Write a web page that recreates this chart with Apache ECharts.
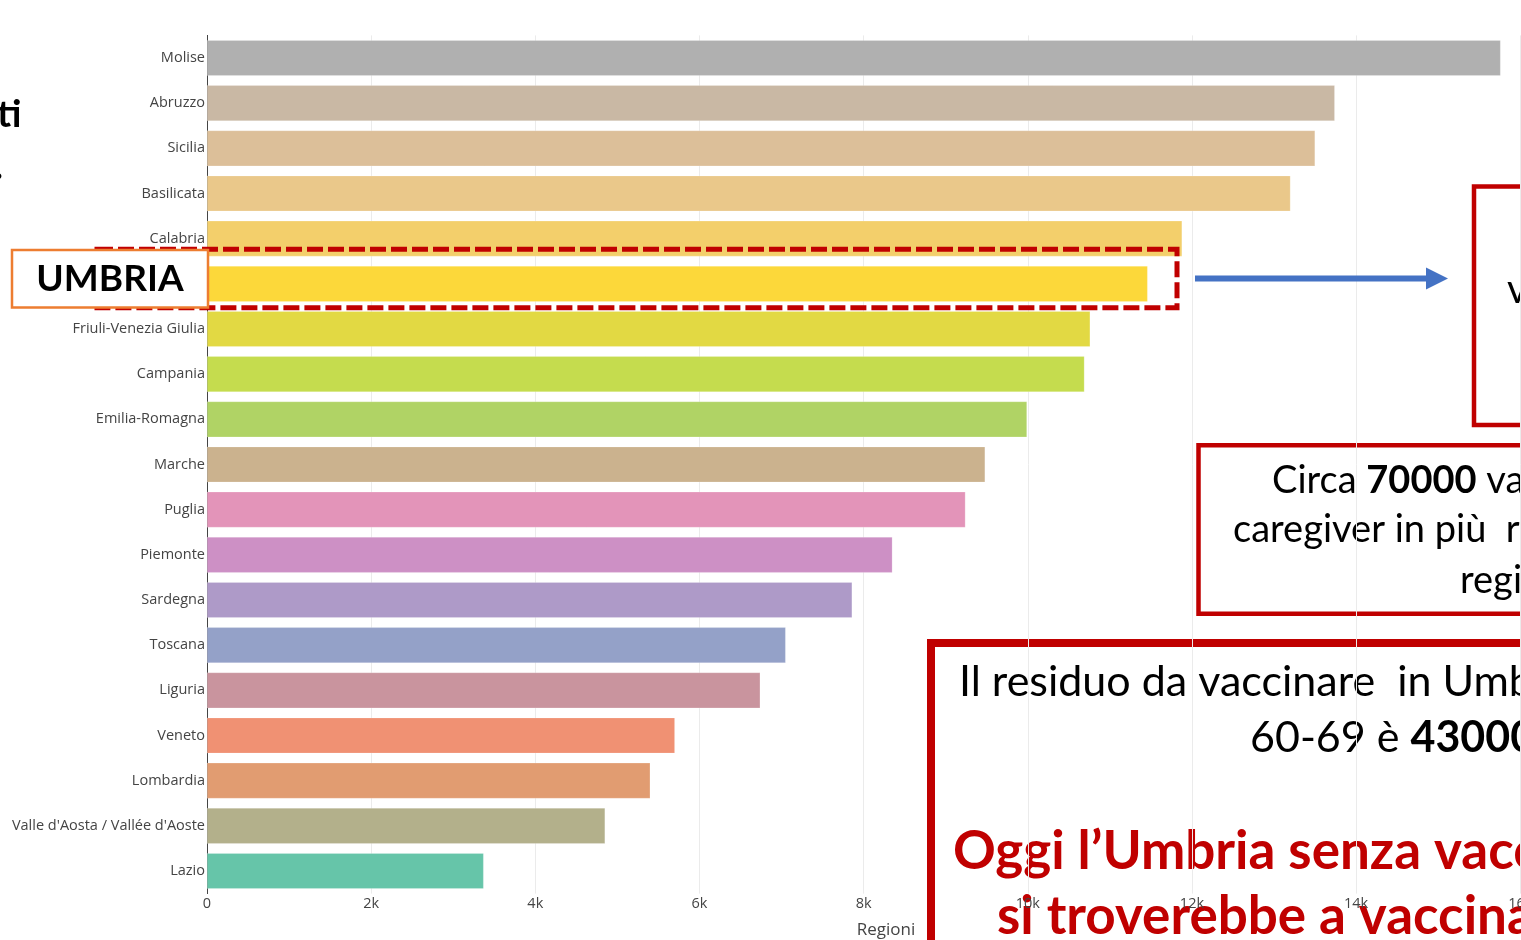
<!DOCTYPE html>
<html><head><meta charset="utf-8">
<script src="https://cdn.jsdelivr.net/npm/echarts@6/dist/echarts.min.js"></script>
<style>html,body{margin:0;padding:0;background:#fff;overflow:hidden}#c{width:1521px;height:940px}</style>
</head><body><div id="c"></div>
<script>
const regions = ['Molise','Abruzzo','Sicilia','Basilicata','Calabria','Umbria','Friuli-Venezia Giulia','Campania','Emilia-Romagna','Marche','Puglia','Piemonte','Sardegna','Toscana','Liguria','Veneto','Lombardia',"Valle d'Aosta / Vallée d'Aoste",'Lazio'];
const values = [15760,13740,13500,13200,11880,11460,10760,10690,9990,9480,9240,8350,7860,7050,6740,5700,5400,4850,3370];
const barColors = ['#b0b0b0','#c9b8a4','#dcbf99','#eac88a','#f3cf6b','#fcd83a','#e2d943','#c5dc4e','#b0d365','#cbb28e','#e394b9','#cd90c5','#ae9ac8','#94a1c8','#c9949e','#f09173','#e19c71','#b3b08b','#66c5a9'];
const xTickLabels = ['0','2k','4k','6k','8k','10k','12k','14k','16k'];
const xAxisTitle = 'Regioni';

const chart = echarts.init(document.getElementById('c'), null, {renderer:'canvas'});
const red = '#C00000';
chart.setOption({
  animation:false,
  backgroundColor:'#fff',
  grid:{left:207, width:1358, top:35.4, height:858.2, containLabel:false, outerBoundsMode:'none'},
  xAxis:{
    type:'value', min:0, max:16545, interval:2000,
    axisLine:{show:false}, axisTick:{show:false},
    splitLine:{lineStyle:{color:'#ebebeb', width:1}},
    axisLabel:{color:'#444', fontSize:14.5, fontFamily:'Open Sans', margin:3, showMaxLabel:false,
      formatter:(v,i)=>xTickLabels[i]},
    name:xAxisTitle, nameLocation:'middle', nameGap:28,
    nameTextStyle:{color:'#444', fontSize:17, fontFamily:'Open Sans'}
  },
  yAxis:{
    type:'category', inverse:true, data:regions,
    axisLine:{lineStyle:{color:'#444', width:1}}, axisTick:{show:false},
    axisLabel:{color:'#444', fontSize:14.5, fontFamily:'Open Sans', margin:2}
  },
  series:[{
    type:'bar', barCategoryGap:'21%',
    data: values.map((v,i)=>({value:v, itemStyle:{color:barColors[i]}})),
    itemStyle:{borderColor:'rgba(255,255,255,0.4)', borderWidth:0.5}
  }],
  graphic:[
    {type:'text', z:20, left:-3, top:96, style:{text:'ti', font:'bold 38px Lato', fill:'#000'}},
    {type:'text', z:20, left:-6, top:148, style:{text:'.', font:'bold 38px Lato', fill:'#000'}},
    {type:'rect', z:20, shape:{x:97, y:249.3, width:1080, height:58.4}, style:{fill:'none', stroke:red, lineWidth:5, lineDash:[16,5]}},
    {type:'rect', z:21, shape:{x:12, y:250, width:196, height:57.5}, style:{fill:'#fff', stroke:'#ED7D31', lineWidth:2.5}},
    {type:'text', z:22, x:110, y:279, style:{text:'UMBRIA', font:'bold 37px Lato', fill:'#000', textAlign:'center', textVerticalAlign:'middle'}},
    {type:'rect', z:20, shape:{x:1195, y:275.5, width:233, height:6}, style:{fill:'#4472C4'}},
    {type:'polygon', z:20, shape:{points:[[1426,267.5],[1448,278.5],[1426,289.5]]}, style:{fill:'#4472C4'}},
    {type:'rect', z:-1, shape:{x:1474, y:186.5, width:200, height:238.5}, style:{fill:'#fff', stroke:red, lineWidth:4.5}},
    {type:'text', z:-1, x:1507, y:310, style:{text:'v', font:'40px Lato', fill:'#000', textVerticalAlign:'bottom'}},
    {type:'rect', z:-1, shape:{x:1198.5, y:445.3, width:400, height:168.5}, style:{fill:'#fff', stroke:red, lineWidth:4.5}},
    {type:'text', z:-1, x:1272, y:500, style:{text:'Circa {b|70000} va', font:'38px Lato', fill:'#000', textVerticalAlign:'bottom',
      rich:{b:{font:'bold 38px Lato', fill:'#000'}}}},
    {type:'text', z:-1, x:1233, y:549, style:{text:'caregiver in più  r', font:'38px Lato', fill:'#000', textVerticalAlign:'bottom'}},
    {type:'text', z:-1, x:1460, y:600, style:{text:'regi', font:'38px Lato', fill:'#000', textVerticalAlign:'bottom'}},
    {type:'rect', z:-1, shape:{x:931, y:643, width:700, height:400}, style:{fill:'#fff', stroke:red, lineWidth:8}},
    {type:'text', z:-1, x:959, y:704, style:{text:'Il residuo da vaccinare  in Umbria', font:'43px Lato', fill:'#000', textVerticalAlign:'bottom'}},
    {type:'text', z:-1, x:1250, y:760, style:{text:'60-69 è {b|43000}', font:'43px Lato', fill:'#000', textVerticalAlign:'bottom',
      rich:{b:{font:'bold 43px Lato', fill:'#000'}}}},
    {type:'text', z:-1, x:953, y:878, style:{text:'Oggi l\u2019Umbria senza vaccinare', font:'bold 53px Lato', fill:red, textVerticalAlign:'bottom'}},
    {type:'text', z:-1, x:997, y:943, style:{text:'si troverebbe a vaccinare', font:'bold 53px Lato', fill:red, textVerticalAlign:'bottom'}}
  ]
});
</script></body></html>
